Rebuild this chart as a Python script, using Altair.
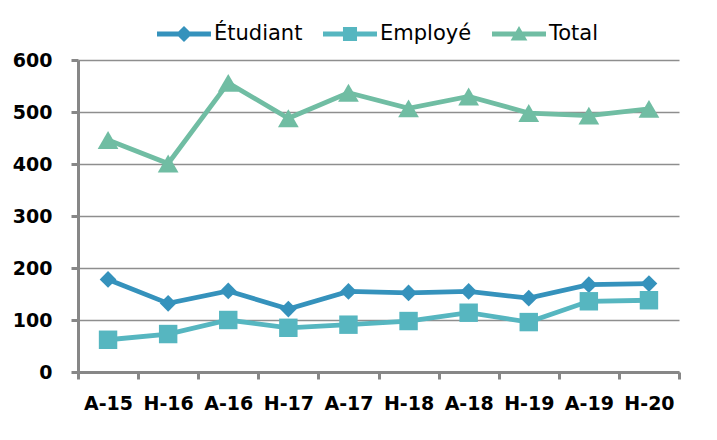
import altair as alt
import pandas as pd

periods = ["A-15", "H-16", "A-16", "H-17", "A-17", "H-18", "A-18", "H-19", "A-19", "H-20"]
etudiant = [178, 132, 156, 121, 155, 152, 155, 142, 168, 170]
employe = [62, 73, 100, 85, 91, 98, 114, 96, 136, 138]
total = [446, 401, 556, 488, 537, 507, 530, 498, 493, 506]
series_names = ["Étudiant", "Employé", "Total"]
colors = ["#3592BC", "#56B6C0", "#70BDA3"]
marker_shapes = ["diamond", "square", "triangle-up"]
marker_sizes = [280, 340, 430]
y_ticks = [0, 100, 200, 300, 400, 500, 600]

legend_paths = [
    "M-1,-0.093H1V0.093H-1Z M-0.3,0L0,-0.3L0.3,0L0,0.3Z",
    "M-1,-0.093H1V0.093H-1Z M-0.26,-0.26H0.26V0.26H-0.26Z",
    "M-1,-0.093H1V0.093H-1Z M-0.31,0.24L0,-0.3L0.31,0.24Z",
]

rows = []
for name, vals in zip(series_names, [etudiant, employe, total]):
    for i, (p, v) in enumerate(zip(periods, vals)):
        rows.append({"Série": name, "Période": p, "Valeur": v, "idx": i})
df = pd.DataFrame(rows)

FONT = "DejaVu Sans"

x = alt.X(
    "Période:N",
    sort=periods,
    scale=alt.Scale(type="band", paddingInner=0, paddingOuter=0),
    axis=alt.Axis(
        title=None, labelAngle=0, tickBand="extent", grid=False,
        domainColor="#878787", domainWidth=3, tickColor="#878787", tickWidth=3,
        tickSize=7, labelFont=FONT, labelFontSize=19, labelFontWeight="bold",
        labelColor="#000000", labelPadding=15,
    ),
)
y = alt.Y(
    "Valeur:Q",
    scale=alt.Scale(domain=[0, 600], nice=False, zero=True),
    axis=alt.Axis(
        title=None, values=y_ticks, grid=True, gridColor="#8E8E8E", gridWidth=1.6,
        domainColor="#878787", domainWidth=3, tickColor="#878787", tickWidth=3,
        tickSize=7, labelFont=FONT, labelFontSize=19, labelFontWeight="bold",
        labelColor="#000000", labelPadding=19,
    ),
)
color_scale = alt.Scale(domain=series_names, range=colors)

leg = alt.Legend(
    title=None, orient="none", legendX=79, legendY=-53, direction="horizontal",
    labelFont=FONT, labelFontSize=21, labelColor="#000000",
    symbolSize=2916, symbolStrokeWidth=0, labelOffset=3, columnPadding=20,
    padding=0, symbolOpacity=1,
)
color = alt.Color("Série:N", scale=color_scale, legend=leg, sort=series_names)

lines = alt.Chart(df).mark_line(strokeWidth=4.8).encode(x=x, y=y, color=color)

point_layers = []
for name, shp, sz in zip(series_names, marker_shapes, marker_sizes):
    point_layers.append(
        alt.Chart(df).transform_filter(alt.datum["Série"] == name)
        .mark_point(filled=True, shape=shp, size=sz, opacity=1, strokeWidth=0)
        .encode(x=x, y=y, color=color)
    )

legend_layer = alt.Chart(df).mark_point(filled=True, size=0, opacity=1).encode(
    x=x, y=y,
    color=color,
    shape=alt.Shape("Série:N", scale=alt.Scale(domain=series_names, range=legend_paths),
                    legend=leg, sort=series_names),
)

chart = alt.layer(lines, *point_layers, legend_layer).properties(
    width=601, height=312,
    autosize=alt.AutoSizeParams(type="none"),
    padding={"left": 70, "top": 52, "right": 30, "bottom": 50},
    background="#ffffff",
).configure_view(stroke=None)

chart.save("out.html", embed_options={"renderer": "svg", "actions": False})
